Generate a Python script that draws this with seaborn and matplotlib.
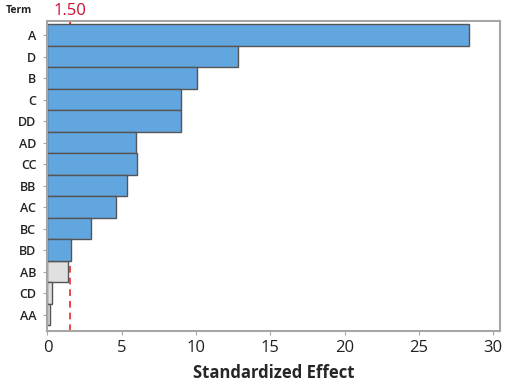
import matplotlib
matplotlib.use("Agg")
import pandas as pd
import seaborn as sns
from matplotlib import pyplot as plt

# Pareto chart of standardized effects
TERMS = ["A", "D", "B", "C", "DD", "AD", "CC", "BB", "AC", "BC", "BD", "AB", "CD", "AA"]
EFFECTS = [28.4, 12.85, 10.05, 9.02, 9.02, 5.98, 6.05, 5.33, 4.6, 2.95, 1.57, 1.37, 0.32, 0.16]
REF_LINE = 1.50

BLUE = "#62a6e0"
GREY = "#e0e0e0"
SPINE = "#a6a6a6"

df = pd.DataFrame({"term": TERMS, "effect": EFFECTS})
df["significant"] = df["effect"] > REF_LINE

sns.set_style("white")
plt.rcParams["font.family"] = ["Open Sans", "DejaVu Sans"]

fig = plt.figure(figsize=(5.05, 3.86), dpi=100)
ax = fig.add_axes([0.094, 0.142, 0.897, 0.804])

ax.axvline(REF_LINE, color="#e8262b", linestyle=(0, (4, 3)), linewidth=1.2, zorder=0.5)

sns.barplot(data=df, x="effect", y="term", hue="significant",
            palette={True: BLUE, False: GREY}, order=TERMS,
            width=1.0, dodge=False, legend=False, saturation=1,
            edgecolor="#555555", linewidth=1.0, ax=ax, zorder=2)

ax.set_xlim(0, 30.5)
ax.set_ylim(13.77, -0.67)
ax.set_xticks([0, 5, 10, 15, 20, 25, 30])
ax.set_xlabel("Standardized Effect", fontsize=12, fontweight="bold", labelpad=6)
ax.set_ylabel("")

ax.tick_params(axis="x", labelsize=12, length=3, color=SPINE, pad=3, direction="out", bottom=True)
ax.tick_params(axis="y", labelsize=9, length=3, color=SPINE, pad=5, direction="out", left=True)
for lab in ax.get_yticklabels():
    lab.set_fontweight("semibold")
    lab.set_color("#222222")
for lab in ax.get_xticklabels():
    lab.set_color("#222222")

for s in ax.spines.values():
    s.set_color(SPINE)
    s.set_linewidth(1.5)

# reference value marked on the top axis
top = ax.secondary_xaxis("top")
top.set_xticks([REF_LINE])
top.set_xticklabels([f"{REF_LINE:.2f}"])
top.tick_params(axis="x", colors="#c8102e", labelsize=12, length=3, pad=1, direction="in")
top.spines["top"].set_visible(False)

fig.text(0.012, 0.972, "Term", fontsize=7.5, fontweight="bold", color="#222222", va="center")

fig.savefig("out.png", dpi=100)
